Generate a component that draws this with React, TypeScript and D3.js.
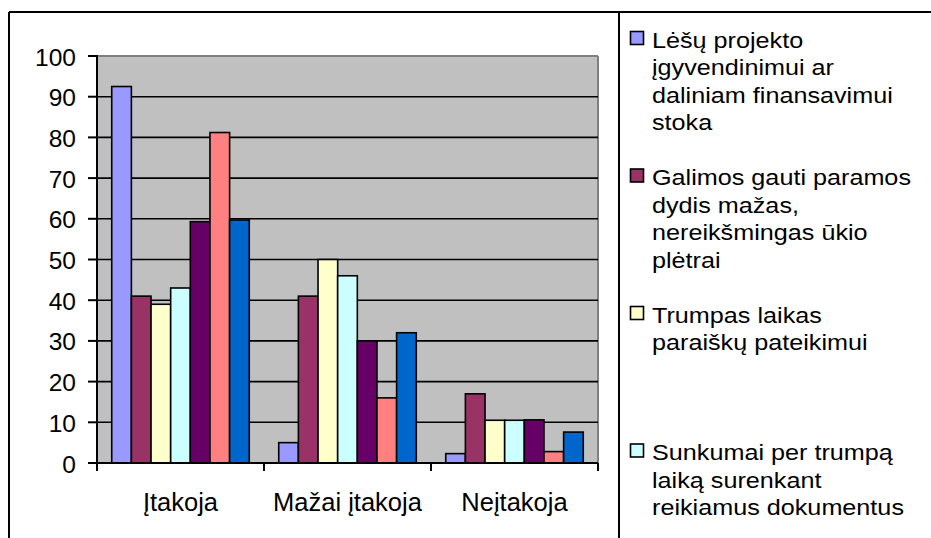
import React from "react";
import * as d3 from "d3";

const categories = ["Įtakoja", "Mažai įtakoja", "Neįtakoja"];
const seriesColors = ["#9999FF", "#993366", "#FFFFCC", "#CCFFFF", "#660066", "#FF8080", "#0066CC"];
const s1 = [92.5, 5, 2.3];
const s2 = [41, 41, 17];
const s3 = [39, 50, 10.5];
const s4 = [43, 46, 10.5];
const s5 = [59.3, 30, 10.6];
const s6 = [81.2, 16, 2.8];
const s7 = [59.7, 32, 7.6];
const seriesValues = [s1, s2, s3, s4, s5, s6, s7];
const yTicks = [0, 10, 20, 30, 40, 50, 60, 70, 80, 90, 100];
const legendLines = [
  ["Lėšų projekto", "įgyvendinimui ar", "daliniam finansavimui", "stoka"],
  ["Galimos gauti paramos", "dydis mažas,", "nereikšmingas ūkio", "plėtrai"],
  ["Trumpas laikas", "paraiškų pateikimui"],
  ["Sunkumai per trumpą", "laiką surenkant", "reikiamus dokumentus"],
];

const W = 931;
const H = 538;
const plot = { left: 97, right: 598, top: 56, bottom: 463 };
const FONT = "'Liberation Sans', Arial, sans-serif";

export default function App() {
  const x0 = d3.scaleBand<string>().domain(categories).range([plot.left, plot.right]).paddingInner(0).paddingOuter(0);
  const idx = seriesValues.map((_, i) => String(i));
  const x1 = d3.scaleBand<string>().domain(idx).range([0, x0.bandwidth()]).paddingInner(0).paddingOuter(0.75);
  const y = d3.scaleLinear().domain([0, 100]).range([plot.bottom, plot.top]);

  const legendStep = 137.5;
  const legendFirstBaseline = 47.5;
  const lineH = 27.5;

  return (
    <svg width={W} height={H} style={{ position: "absolute", left: 0, top: 0, background: "#fff" }} fontFamily={FONT}>
      <rect x={0} y={0} width={W} height={H} fill="#fff" />
      {/* plot area */}
      <rect x={plot.left} y={plot.top} width={plot.right - plot.left} height={plot.bottom - plot.top} fill="#C0C0C0" />
      <line x1={plot.left} x2={plot.right} y1={plot.top} y2={plot.top} stroke="#808080" strokeWidth={2} />
      <line x1={plot.right} x2={plot.right} y1={plot.top} y2={plot.bottom} stroke="#808080" strokeWidth={2} />
      {yTicks.filter((t) => t > 0 && t < 100).map((t) => (
        <line key={"g" + t} x1={plot.left} x2={plot.right} y1={y(t)} y2={y(t)} stroke="#000" strokeWidth={1.6} />
      ))}
      {/* bars */}
      {categories.map((c, ci) => (
        <g key={c}>
          {seriesValues.map((vals, si) => (
            <rect
              key={si}
              x={(x0(c) as number) + (x1(String(si)) as number)}
              y={y(vals[ci])}
              width={x1.bandwidth()}
              height={y(0) - y(vals[ci])}
              fill={seriesColors[si]}
              stroke="#000"
              strokeWidth={1.6}
            />
          ))}
        </g>
      ))}
      {/* y axis */}
      <line x1={plot.left} x2={plot.left} y1={plot.top - 1} y2={plot.bottom} stroke="#000" strokeWidth={2} />
      {yTicks.map((t) => (
        <g key={"t" + t}>
          <line x1={88} x2={plot.left} y1={y(t)} y2={y(t)} stroke="#000" strokeWidth={2} />
          <text x={76} y={y(t) + 1} textAnchor="end" dominantBaseline="central" fontSize={24.5} fill="#000">
            {t}
          </text>
        </g>
      ))}
      {/* x axis */}
      <line x1={plot.left - 9} x2={plot.right} y1={plot.bottom} y2={plot.bottom} stroke="#000" strokeWidth={2} />
      {[...categories.map((c) => x0(c) as number), plot.right].map((xv, i) => (
        <line key={"xt" + i} x1={xv} x2={xv} y1={plot.bottom} y2={plot.bottom + 8} stroke="#000" strokeWidth={2} />
      ))}
      {categories.map((c) => (
        <text key={"xl" + c} x={(x0(c) as number) + x0.bandwidth() / 2} y={511} textAnchor="middle" fontSize={25.5} fill="#000">
          {c}
        </text>
      ))}
      {/* outer border */}
      <line x1={9} x2={W} y1={12} y2={12} stroke="#000" strokeWidth={2} />
      <line x1={9} x2={9} y1={12} y2={H} stroke="#000" strokeWidth={2} />
      {/* legend */}
      <line x1={619} x2={619} y1={12} y2={H} stroke="#000" strokeWidth={2} />
      {legendLines.map((lines, i) => {
        const base = legendFirstBaseline + legendStep * i;
        return (
          <g key={"lg" + i}>
            <rect x={630.5} y={base - 16} width={13} height={13} fill={seriesColors[i]} stroke="#000" strokeWidth={1.6} />
            {lines.map((ln, li) => (
              <g key={li} transform={`translate(652, ${base + li * lineH}) scale(1.12, 1)`}>
                <text x={0} y={0} fontSize={22.5} fill="#000">
                  {ln}
                </text>
              </g>
            ))}
          </g>
        );
      })}
    </svg>
  );
}
